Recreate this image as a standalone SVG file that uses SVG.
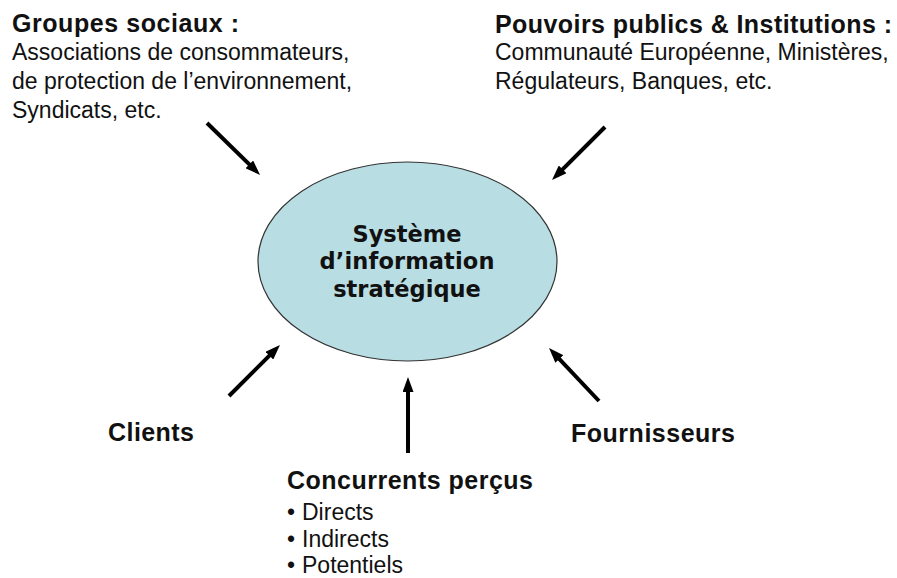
<svg xmlns="http://www.w3.org/2000/svg" width="897" height="578" viewBox="0 0 897 578">
  <style>
    .title { font-family: "Liberation Sans", Arial, sans-serif; font-weight: bold; font-size: 25px; fill: #111; }
    .body { font-family: "Liberation Sans", Arial, sans-serif; font-size: 23px; fill: #111; }
    .center { font-family: "DejaVu Sans", Verdana, sans-serif; font-weight: bold; font-size: 22.5px; fill: #111; text-anchor: middle; }
    .arrow { stroke: #000; stroke-width: 4; fill: none; marker-end: url(#head); }
  </style>
  <defs>
    <marker id="head" markerUnits="userSpaceOnUse" markerWidth="15" markerHeight="11" refX="5" refY="5.5" orient="auto">
      <path d="M0,0 L15,5.5 L0,11 z" fill="#000"/>
    </marker>
  </defs>
  <rect width="897" height="578" fill="#fff"/>

  <g id="connectors">
    <line class="arrow" x1="207" y1="123" x2="252.9" y2="167.9"/>
    <line class="arrow" x1="605" y1="127" x2="559.1" y2="172.9"/>
    <line class="arrow" x1="229" y1="396" x2="272.9" y2="352.1"/>
    <line class="arrow" x1="408" y1="453" x2="408" y2="387"/>
    <line class="arrow" x1="599" y1="401" x2="555.9" y2="355.3"/>
  </g>

  <g id="sis">
    <ellipse cx="407.5" cy="261.5" rx="149.5" ry="99.5" fill="#b8dde3" stroke="#333" stroke-width="1.2"/>
    <text class="center" x="407" y="242">Système</text>
    <text class="center" x="407" y="269" textLength="175">d’information</text>
    <text class="center" x="407" y="297">stratégique</text>
  </g>

  <g id="groupes-sociaux">
    <text class="title" x="12" y="32" textLength="227">Groupes sociaux :</text>
    <text class="body" x="12" y="60">Associations de consommateurs,</text>
    <text class="body" x="12" y="89">de protection de l’environnement,</text>
    <text class="body" x="12" y="118">Syndicats, etc.</text>
  </g>

  <g id="pouvoirs-publics">
    <text class="title" x="495" y="33" textLength="397">Pouvoirs publics &amp; Institutions :</text>
    <text class="body" x="495" y="60">Communauté Européenne, Ministères,</text>
    <text class="body" x="495" y="89">Régulateurs, Banques, etc.</text>
  </g>

  <g id="clients">
    <text class="title" x="108" y="441" textLength="86">Clients</text>
  </g>

  <g id="fournisseurs">
    <text class="title" x="571" y="442" textLength="164">Fournisseurs</text>
  </g>

  <g id="concurrents">
    <text class="title" x="287" y="489" textLength="246">Concurrents perçus</text>
    <text class="body" x="287" y="520">•</text>
    <text class="body" x="302" y="520">Directs</text>
    <text class="body" x="287" y="547">•</text>
    <text class="body" x="302" y="547">Indirects</text>
    <text class="body" x="287" y="573">•</text>
    <text class="body" x="302" y="573">Potentiels</text>
  </g>
</svg>
